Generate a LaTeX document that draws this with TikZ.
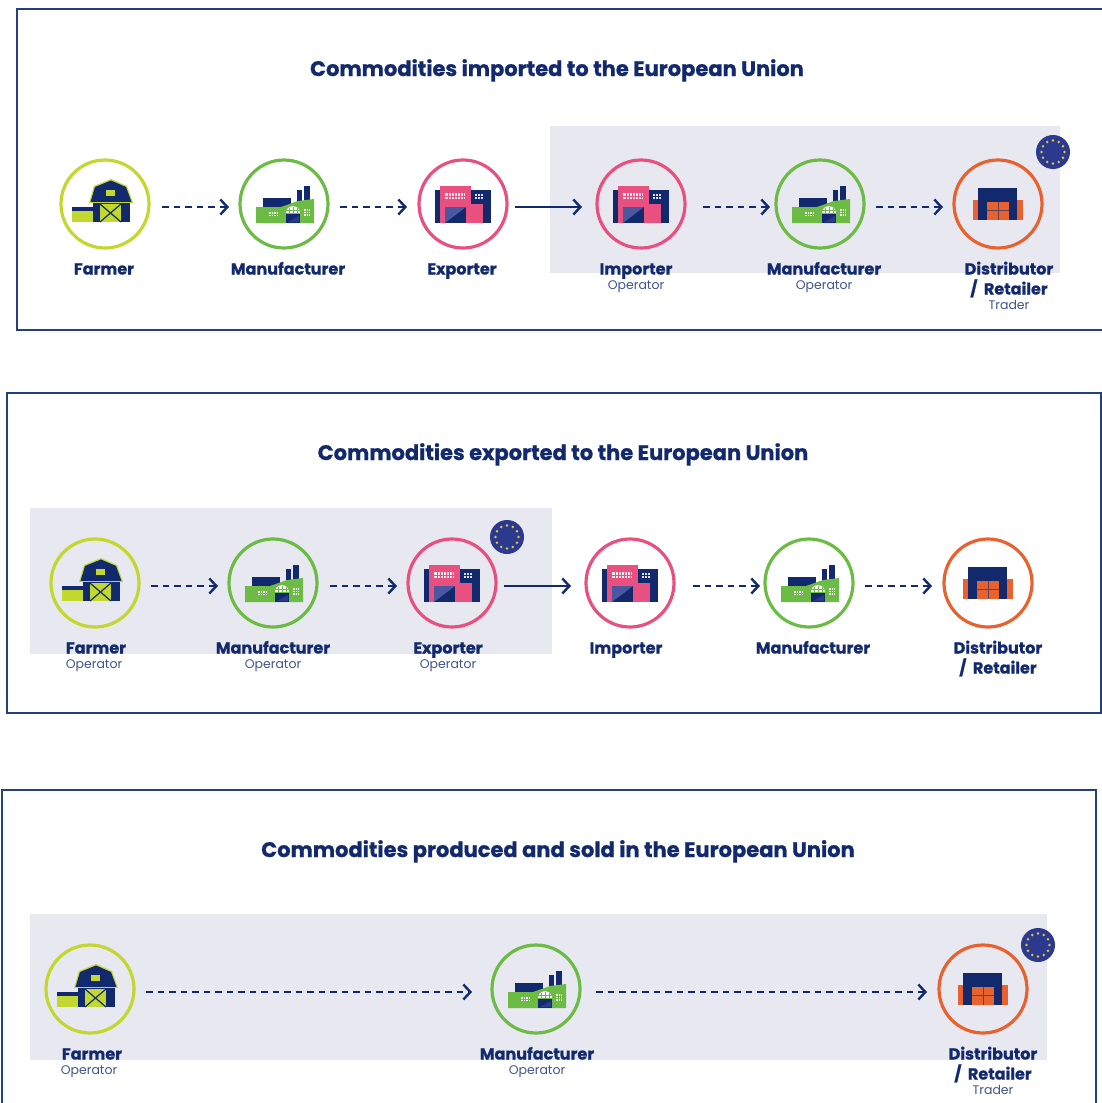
\documentclass[tikz,border=0pt]{standalone}
\usepackage{fontspec}
\setmainfont[BoldFont={Poppins Bold},BoldFeatures={FakeBold=0.9}]{Poppins}
\usetikzlibrary{arrows.meta}
\definecolor{navy}{HTML}{12296E}
\definecolor{frameblue}{HTML}{24407F}
\definecolor{lime}{HTML}{C3D82E}
\definecolor{leaf}{HTML}{6CBB45}
\definecolor{rose}{HTML}{E8517F}
\definecolor{tang}{HTML}{E8622F}
\definecolor{panel}{HTML}{E7E8F0}
\definecolor{eublue}{HTML}{2B3A8F}
\definecolor{star}{HTML}{E3C83A}
\tikzset{
 x=1pt,y=-1pt,
 frame/.style={draw=frameblue,line width=1.8pt},
 shade box/.style={fill=panel,draw=none},
 ring/.style={circle,draw=#1,line width=3.2pt,minimum size=88pt,inner sep=0pt,outer sep=0pt},
 title/.style={text=navy,font=\fontsize{21}{23}\selectfont\bfseries,inner sep=0pt,anchor=base,yshift=-7pt},
 role/.style={text=navy,font=\fontsize{16}{18}\selectfont\bfseries,inner sep=0pt,anchor=base,yshift=-5.5pt},
 sub/.style={text=navy!80,font=\fontsize{12.5}{14}\selectfont,inner sep=0pt,anchor=base,yshift=-4.5pt},
 flow/.style={draw=navy,line width=2.2pt,-{Straight Barb[length=7pt,width=15pt,line width=2.4pt]}},
 dflow/.style={flow,dash pattern=on 6.5pt off 5pt},
 barn/.pic={
  \fill[lime] (-33,6) rectangle (-12,18);
  \fill[navy] (-33,3) rectangle (-12,7);
  \fill[lime] (-16,-1) -- (-11,-18) -- (6,-25) -- (22,-18) -- (28,-1) -- cycle;
  \fill[navy] (-14.5,-2) -- (-10,-17) -- (6,-23.5) -- (21,-17) -- (26.5,-2) -- cycle;
  \fill[navy] (-12,-2) rectangle (25,18);
  \draw[lime,line width=.9pt] (-15.5,-1.5) -- (27.5,-1.5);
  \fill[lime] (1,-14) rectangle (10,-8);
  \fill[lime] (-5,0) rectangle (16,18);
  \draw[navy,line width=1.2pt] (-5,0) -- (16,18) (-5,18) -- (16,0);
 },
 factory/.pic={
  \fill[navy] (-21,-6) rectangle (7,4);
  \fill[navy] (13,-14) rectangle (18,0);
  \fill[navy] (20,-18) rectangle (26,0);
  \fill[leaf] (-28,19) -- (-28,3) -- (-3,3) -- (14,-3) -- (30,-5) -- (30,19) -- cycle;
  \fill[white] (2,9) .. controls (2,0) and (16,0) .. (16,9) -- cycle;
  \draw[leaf,line width=.6pt] (5,9) -- (5,3.5) (9,9) -- (9,2.5) (13,9) -- (13,3.5) (2,6.5) -- (16,6.5);
  \fill[navy] (2,10) rectangle (16,19);
  \fill[eublue] (4,18) -- (15,12) -- (15,18) -- cycle;
  \fill[white] (-15,8) rectangle (-6,12);
  \fill[white] (20,5) rectangle (26,12);
  \draw[leaf,line width=.5pt] (-12.7,8) -- (-12.7,12) (-10.5,8) -- (-10.5,12) (-8.2,8) -- (-8.2,12) (-15,10) -- (-6,10)
    (22,5) -- (22,12) (24,5) -- (24,12) (20,7.3) -- (26,7.3) (20,9.6) -- (26,9.6);
 },
 depot/.pic={
  \fill[navy] (-28,-14) rectangle (28,19);
  \fill[rose] (-23,-18) rectangle (8,19);
  \fill[rose] (8,0) rectangle (20,19);
  \fill[navy] (-18,3) rectangle (3,19);
  \fill[eublue!85!white] (-18,19) -- (3,3) -- (-18,3) -- cycle;
  \fill[white!85!rose] (-18,-11) rectangle (2,-5);
  \draw[rose,line width=.5pt] (-18,-8) -- (2,-8) (-15,-11) -- (-15,-5) (-12,-11) -- (-12,-5) (-9,-11) -- (-9,-5) (-6,-11) -- (-6,-5) (-3,-11) -- (-3,-5) (0,-11) -- (0,-5);
  \fill[white!85!navy] (12,-10) rectangle (20,-5);
  \draw[navy,line width=.5pt] (12,-7.5) -- (20,-7.5) (14.7,-10) -- (14.7,-5) (17.3,-10) -- (17.3,-5);
 },
 store/.pic={
  \fill[tang] (-25,-4) rectangle (25,16);
  \fill[navy] (-20,-16) rectangle (19,16);
  \fill[tang] (-11,-2) rectangle (11,16);
  \draw[navy!60!tang,line width=.9pt] (0,-2) -- (0,16) (-11,6) -- (11,6);
 },
 euflag/.pic={
  \fill[eublue] (0,0) circle[radius=17];
  \foreach \a in {0,30,...,330} \fill[star] (\a:11.5) circle[radius=1.4];
 },
}
\newcommand{\flowarrow}[5]{\draw[#1] ([shift={(#3,3)}]#2.east) -- ([shift={(#5,3)}]#4.west);}
\newcommand{\retailer}{/\hspace{3pt} Retailer}
\begin{document}
\begin{tikzpicture}
\useasboundingbox (0,0) rectangle (1102,1103);
\clip (0,0) rectangle (1102,1103);
% frames
\draw[frame] (17,9) rectangle (1115,330);
\draw[frame] (7,393) rectangle (1101,713);
\draw[frame] (2,790) rectangle (1096,1120);
% panels
\fill[shade box] (550,126) rectangle (1060,273);
\fill[shade box] (30,508) rectangle (552,654);
\fill[shade box] (30,914) rectangle (1047,1060);
% titles
\node[title] (t1) at (557,69) {Commodities imported to the European Union};
\node[title] (t2) at (563,453) {Commodities exported to the European Union};
\node[title] (t3) at (558,850) {Commodities produced and sold in the European Union};
% row 1
\node[ring=lime] (a1) at (105,204) {}; \pic at (a1.center) {barn};
\node[ring=leaf] (a2) at (284,204) {}; \pic at (a2.center) {factory};
\node[ring=rose] (a3) at (463,204) {}; \pic at (a3.center) {depot};
\node[ring=rose] (a4) at (641,204) {}; \pic at (a4.center) {depot};
\node[ring=leaf] (a5) at (820,204) {}; \pic at (a5.center) {factory};
\node[ring=tang] (a6) at (998,204) {}; \pic at (a6.center) {store};
\pic at (1053,152) {euflag};
\flowarrow{dflow}{a1}{13}{a2}{-11}
\flowarrow{dflow}{a2}{12}{a3}{-12}
\flowarrow{flow}{a3}{8}{a4}{-15}
\flowarrow{dflow}{a4}{18}{a5}{-6}
\flowarrow{dflow}{a5}{12}{a6}{-11}
\node[role] (la1) at (104,269) {Farmer};
\node[role] (la2) at (288,269) {Manufacturer};
\node[role] (la3) at (462,269) {Exporter};
\node[role] (la4) at (636,269) {Importer};
\node[sub] (sa4) at (636,285) {Operator};
\node[role] (la5) at (824,269) {Manufacturer};
\node[sub] (sa5) at (824,285) {Operator};
\node[role] (la6) at (1009,269) {Distributor};
\node[role] (ma6) at (1009,289) {\retailer};
\node[sub] (sa6) at (1009,305) {Trader};
% row 2
\node[ring=lime] (b1) at (95,583) {}; \pic at (b1.center) {barn};
\node[ring=leaf] (b2) at (273,583) {}; \pic at (b2.center) {factory};
\node[ring=rose] (b3) at (452,583) {}; \pic at (b3.center) {depot};
\node[ring=rose] (b4) at (630,583) {}; \pic at (b4.center) {depot};
\node[ring=leaf] (b5) at (809,583) {}; \pic at (b5.center) {factory};
\node[ring=tang] (b6) at (988,583) {}; \pic at (b6.center) {store};
\pic at (507,537) {euflag};
\flowarrow{dflow}{b1}{12}{b2}{-11}
\flowarrow{dflow}{b2}{13}{b3}{-11}
\flowarrow{flow}{b3}{8}{b4}{-15}
\flowarrow{dflow}{b4}{19}{b5}{-5}
\flowarrow{dflow}{b5}{12}{b6}{-12}
\node[role] (lb1) at (96,648) {Farmer};
\node[sub] (sb1) at (94,664) {Operator};
\node[role] (lb2) at (273,648) {Manufacturer};
\node[sub] (sb2) at (273,664) {Operator};
\node[role] (lb3) at (448,648) {Exporter};
\node[sub] (sb3) at (448,664) {Operator};
\node[role] (lb4) at (626,648) {Importer};
\node[role] (lb5) at (813,648) {Manufacturer};
\node[role] (lb6) at (998,648) {Distributor};
\node[role] (mb6) at (998,668) {\retailer};
% row 3
\node[ring=lime] (c1) at (90,989) {}; \pic at (c1.center) {barn};
\node[ring=leaf] (c2) at (536,989) {}; \pic at (c2.center) {factory};
\node[ring=tang] (c3) at (983,989) {}; \pic at (c3.center) {store};
\pic at (1038,945) {euflag};
\flowarrow{dflow}{c1}{12}{c2}{-20}
\flowarrow{dflow}{c2}{16}{c3}{-12}
\node[role] (lc1) at (92,1054) {Farmer};
\node[sub] (sc1) at (89,1070) {Operator};
\node[role] (lc2) at (537,1054) {Manufacturer};
\node[sub] (sc2) at (537,1070) {Operator};
\node[role] (lc3) at (993,1054) {Distributor};
\node[role] (mc3) at (993,1074) {\retailer};
\node[sub] (sc3) at (993,1090) {Trader};
\end{tikzpicture}
\end{document}
